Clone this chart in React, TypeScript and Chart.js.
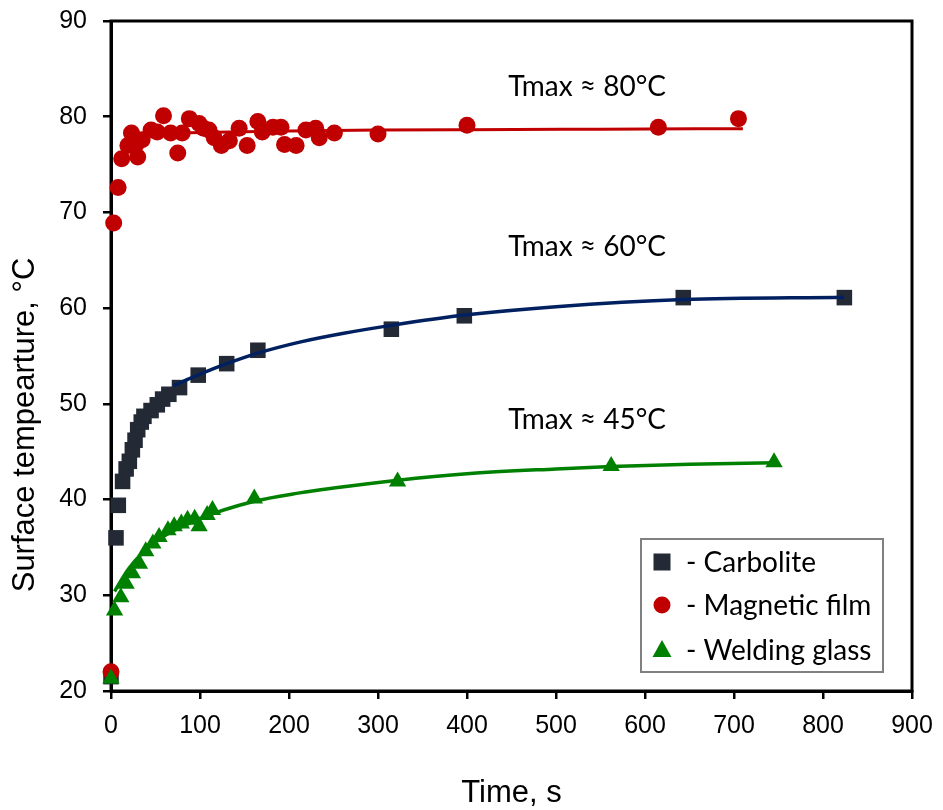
import { useEffect, useRef } from "react";
import { Chart, registerables } from "chart.js";

Chart.register(...registerables);

// ---- data ----
const carboliteTime = [0, 5.6, 8.2, 13, 17, 20.6, 24, 27, 30, 34, 37, 45, 52, 58, 65, 77, 98, 130, 165, 315, 397, 643, 824];
const carboliteTemp = [21.5, 36.0, 39.4, 41.9, 43.2, 44.0, 45.2, 46.2, 47.3, 48.1, 48.7, 49.3, 49.9, 50.5, 51.0, 51.7, 53.0, 54.2, 55.6, 57.8, 59.2, 61.1, 61.1];

const magneticTime = [0, 3, 8, 12, 19, 23, 28, 30, 35, 45, 52, 59, 67, 75, 80, 88, 99, 104, 110, 116, 124, 133, 144, 153, 165, 170, 182, 191, 195, 208, 219, 230, 234, 251, 300, 400, 615, 705];
const magneticTemp = [22.0, 68.9, 72.6, 75.6, 77.0, 78.3, 77.1, 75.8, 77.6, 78.6, 78.4, 80.1, 78.3, 76.2, 78.3, 79.8, 79.3, 78.8, 78.6, 77.8, 77.0, 77.5, 78.8, 77.0, 79.5, 78.4, 78.9, 78.9, 77.1, 77.0, 78.6, 78.8, 77.8, 78.3, 78.2, 79.1, 78.9, 79.8];

const weldingTime = [0, 4, 11, 17, 24, 32, 39, 47, 54, 64, 71, 79, 86, 94, 99, 108, 114, 161, 322, 562, 745];
const weldingTemp = [21.3, 28.4, 29.8, 31.2, 32.3, 33.3, 34.6, 35.4, 36.1, 36.8, 37.2, 37.5, 37.9, 38.0, 37.2, 38.4, 38.9, 40.1, 41.9, 43.5, 43.9];

// fitted trend curves
const carboliteFitTime = [70, 100, 130, 165, 212, 260, 315, 400, 500, 643, 824];
const carboliteFitTemp = [51.9, 53.1, 54.2, 55.3, 56.45, 57.35, 58.2, 59.3, 60.15, 60.9, 61.15];

const magneticFitTime = [35, 100, 200, 300, 400, 550, 710];
const magneticFitTemp = [78.2, 78.35, 78.5, 78.6, 78.65, 78.7, 78.75];

const weldingFitTime = [4, 20, 50, 100, 160, 212, 250, 320, 400, 500, 562, 650, 745];
const weldingFitTemp = [30.4, 32.8, 35.6, 38.0, 39.8, 40.7, 41.2, 42.0, 42.7, 43.2, 43.45, 43.7, 43.85];

const legendLabels = ["- Carbolite", "- Magnetic film", "- Welding glass"];
const annotationTexts = ["Tmax \u2248 80\u00B0C", "Tmax \u2248 60\u00B0C", "Tmax \u2248 45\u00B0C"];
const annotationTime = [535, 535, 535];
const annotationTemp = [83.1, 66.4, 48.3];

const xTitle = "Time, s";
const yTitle = "Surface tempearture, \u00B0C";

const RED = "#C00000";
const DARK = "#232A35";
const NAVY = "#002060";
const GREEN = "#008000";

const pts = (xs: number[], ys: number[]) => xs.map((x, i) => ({ x, y: ys[i] }));

const decor = {
  id: "decor",
  beforeDatasetsDraw(chart: any) {
    const { ctx, chartArea: a } = chart;
    ctx.save();
    ctx.strokeStyle = "#000";
    ctx.lineWidth = 3;
    ctx.strokeRect(a.left, a.top, a.right - a.left, a.bottom - a.top);
    ctx.restore();
  },
  afterDraw(chart: any) {
    const { ctx, chartArea: a, scales } = chart;
    const xs = scales.x;
    const ys = scales.y;
    ctx.save();
    // annotations
    ctx.fillStyle = "#000";
    ctx.font = "28px Lato";
    ctx.textAlign = "center";
    ctx.textBaseline = "middle";
    annotationTexts.forEach((t, i) => {
      ctx.fillText(t, xs.getPixelForValue(annotationTime[i]), ys.getPixelForValue(annotationTemp[i]));
    });

    // legend box
    const bx = a.right - 271;
    const by = a.bottom - 152;
    const bw = 242;
    const bh = 133;
    ctx.fillStyle = "#fff";
    ctx.fillRect(bx, by, bw, bh);
    ctx.strokeStyle = "#808080";
    ctx.lineWidth = 2;
    ctx.strokeRect(bx, by, bw, bh);
    const mx = bx + 21;
    const rows = [by + 23, by + 66, by + 111];
    ctx.fillStyle = DARK;
    ctx.fillRect(mx - 8.5, rows[0] - 8.5, 17, 17);
    ctx.fillStyle = RED;
    ctx.beginPath();
    ctx.arc(mx, rows[1], 8.5, 0, Math.PI * 2);
    ctx.fill();
    ctx.fillStyle = GREEN;
    ctx.beginPath();
    ctx.moveTo(mx, rows[2] - 10);
    ctx.lineTo(mx + 9.5, rows[2] + 7);
    ctx.lineTo(mx - 9.5, rows[2] + 7);
    ctx.closePath();
    ctx.fill();
    ctx.fillStyle = "#000";
    ctx.font = "28px Lato";
    ctx.textAlign = "left";
    ctx.textBaseline = "middle";
    legendLabels.forEach((l, i) => ctx.fillText(l, bx + 45, rows[i] + 1));

    // axis titles
    ctx.font = "31px 'Liberation Sans'";
    ctx.textAlign = "center";
    ctx.textBaseline = "middle";
    ctx.fillText(xTitle, (a.left + a.right) / 2, 793);
    ctx.translate(25, 425);
    ctx.rotate(-Math.PI / 2);
    ctx.fillText(yTitle, 0, 0);
    ctx.restore();
  },
};

export default function App() {
  const ref = useRef<HTMLCanvasElement | null>(null);
  useEffect(() => {
    document.body.style.margin = "0";
    const canvas = ref.current;
    if (!canvas) return;
    const tickFont = { family: "'Liberation Sans', Arial, sans-serif", size: 25 };
    const chart = new Chart(canvas, {
      type: "scatter",
      data: {
        datasets: [
          {
            data: pts(carboliteFitTime, carboliteFitTemp),
            showLine: true,
            borderColor: NAVY,
            borderWidth: 3.5,
            pointRadius: 0,
            cubicInterpolationMode: "monotone",
            clip: false,
          } as any,
          {
            data: pts(magneticFitTime, magneticFitTemp),
            showLine: true,
            borderColor: RED,
            borderWidth: 3,
            pointRadius: 0,
            cubicInterpolationMode: "monotone",
            clip: false,
          },
          {
            data: pts(weldingFitTime, weldingFitTemp),
            showLine: true,
            borderColor: GREEN,
            borderWidth: 3.5,
            pointRadius: 0,
            cubicInterpolationMode: "monotone",
            clip: false,
          },
          {
            data: pts(weldingTime, weldingTemp),
            pointStyle: "triangle",
            pointRadius: 10,
            backgroundColor: GREEN,
            borderColor: GREEN,
            pointBorderWidth: 0,
            clip: false,
          },
          {
            data: pts(magneticTime, magneticTemp),
            pointStyle: "circle",
            pointRadius: 8.5,
            backgroundColor: RED,
            borderColor: RED,
            pointBorderWidth: 0,
            clip: false,
          },
          {
            data: pts(carboliteTime, carboliteTemp),
            pointStyle: "rect",
            pointRadius: 11,
            backgroundColor: DARK,
            borderColor: DARK,
            pointBorderWidth: 0,
            clip: false,
          },
        ],
      },
      options: {
        responsive: false,
        animation: false,
        layout: { padding: { top: 21, right: 31, left: 0, bottom: 0 } },
        plugins: { legend: { display: false }, tooltip: { enabled: false } },
        scales: {
          x: {
            type: "linear",
            min: 0,
            max: 900,
            ticks: { stepSize: 100, font: tickFont, color: "#000", padding: 12, maxRotation: 0 },
            grid: { drawOnChartArea: false, drawTicks: true, tickLength: 8, tickColor: "#000", tickWidth: 2.5, lineWidth: 2.5 },
            border: { display: true, color: "#000", width: 3 },
            afterFit: (s: any) => {
              s.height = 119;
              s.paddingLeft = 0;
              s.paddingRight = 0;
            },
          },
          y: {
            type: "linear",
            min: 20,
            max: 90,
            ticks: { stepSize: 10, font: tickFont, color: "#000", padding: 16 },
            grid: { drawOnChartArea: false, drawTicks: true, tickLength: 8, tickColor: "#000", tickWidth: 2.5, lineWidth: 2.5 },
            border: { display: true, color: "#000", width: 3 },
            afterFit: (s: any) => {
              s.width = 111;
              s.paddingTop = 0;
              s.paddingBottom = 0;
            },
          },
        },
      },
      plugins: [decor],
    });
    return () => chart.destroy();
  }, []);
  return (
    <div style={{ width: 943, height: 810 }}>
      <canvas ref={ref} width={943} height={810} style={{ display: "block" }} />
    </div>
  );
}
